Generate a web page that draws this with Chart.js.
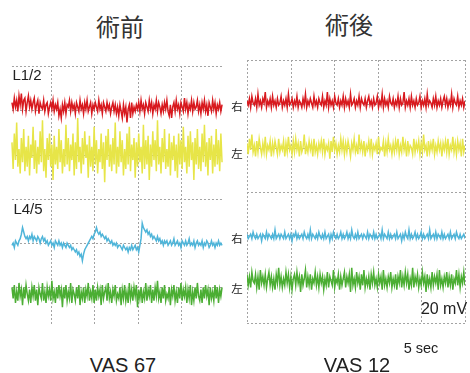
<!DOCTYPE html>
<html>
<head>
<meta charset="utf-8">
<script src="https://cdn.jsdelivr.net/npm/chart.js@4"></script>
<style>
  body { margin: 0; width: 470px; height: 373px; background: #fff; position: relative; overflow: hidden;
         font-family: "Liberation Sans", Arial, sans-serif; color: #222; }
  canvas { position: absolute; }
  .txt { position: absolute; white-space: nowrap; line-height: 1; transform: translate(-50%, -50%); }
  .cjk { font-family: "Noto Sans CJK JP", sans-serif; }
</style>
</head>
<body>
<canvas id="chart_left_canvas" width="226" height="267" style="left:3px; top:62px"></canvas>
<canvas id="chart_right_canvas" width="226" height="271" style="left:243px; top:56px"></canvas>

<div class="txt cjk" style="left:120px; top:26px; font-size:24px; color:#333">術前</div>
<div class="txt cjk" style="left:349px; top:24px; font-size:24px; color:#333">術後</div>
<div class="txt" style="left:27px; top:74px; font-size:15px">L1/2</div>
<div class="txt" style="left:28px; top:208px; font-size:15px">L4/5</div>
<div class="txt cjk" style="left:237px; top:107px; font-size:11.5px">右</div>
<div class="txt cjk" style="left:237px; top:154px; font-size:11.5px">左</div>
<div class="txt cjk" style="left:237px; top:239px; font-size:11.5px">右</div>
<div class="txt cjk" style="left:237px; top:289px; font-size:11.5px">左</div>
<div class="txt" style="left:444px; top:309px; font-size:16px">20 mV</div>
<div class="txt" style="left:421px; top:348px; font-size:14.5px">5 sec</div>
<div class="txt" style="left:123px; top:365px; font-size:20px">VAS 67</div>
<div class="txt" style="left:357px; top:365px; font-size:20px">VAS 12</div>

<script>
// EMG traces, deviation from each channel's baseline in mV (1 grid division = 20 mV)
const pre_l12_right = [2,-1,4,0,3,-2,5,1,6,-1,3,4,-2,2,5,0,3,-1,2,4,
  -2,1,3,-3,2,0,-1,3,-2,1,2,-3,0,2,-1,3,-2,1,-1,2,
  -4,-1,-5,1,-2,2,-3,1,0,3,-2,2,-1,1,-3,2,0,-2,3,-1,
  1,-3,2,-1,3,-2,0,2,-3,1,-1,2,0,-2,3,-1,1,-3,2,0,
  -2,2,-1,1,-3,0,2,-2,1,-3,0,-4,1,-2,-5,1,-3,0,-7,-1,
  1,-5,2,-3,0,-2,1,-1,2,-2,3,-1,1,-3,2,0,-2,3,-1,2,
  -3,1,-1,3,-2,2,0,-3,1,-2,2,-1,3,-2,-4,1,-5,0,2,-2,
  3,-1,1,-3,2,0,-2,4,-1,2,-3,1,-1,3,-2,2,-1,0,3,-2,
  1,-3,2,-1,3,-2,1,-4,2,0,-2,3,-1,2,-3,1,-1,2,-2,1];
const pre_l12_left = [5,-7,9,-3,14,-6,2,-9,7,-4,11,-8,3,-6,8,-10,4,-2,12,-7,
  6,-9,3,-5,10,-4,15,-8,2,-11,7,-3,9,-6,4,-12,8,-5,3,-7,
  11,-4,6,-9,2,-6,13,-5,7,-8,4,-3,9,-10,5,-7,16,-4,3,-9,
  7,-5,10,-2,4,-11,8,-6,3,-8,12,-5,6,-9,2,-4,9,-7,5,-13,
  8,-3,11,-6,4,-8,7,-5,14,-9,3,-6,10,-4,6,-10,2,-7,9,-5,
  12,-8,4,-3,7,-11,5,-6,9,-4,3,-9,13,-7,6,-5,8,-12,4,-6,
  10,-3,6,-8,15,-5,3,-9,7,-4,11,-7,2,-6,9,-10,5,-3,8,-8,
  4,-11,9,-5,6,-7,12,-4,3,-9,8,-6,10,-3,5,-12,7,-5,11,-7,
  3,-8,9,-4,13,-6,5,-10,7,-3,8,-9,4,-6,11,-5,6,-8,9,-4];
const pre_l45_right = [-1,0,-2,1,0,-1,1,2,4,7,5,3,2,3,1,3,2,4,1,3,
  2,1,3,2,0,2,3,1,2,0,1,-1,0,1,-1,0,-2,1,0,-1,
  1,-1,0,-2,0,-1,-2,0,-1,-2,-1,-3,-2,-3,-4,-3,-5,-4,-6,-5,
  -8,-5,-3,-2,-1,0,1,2,3,2,4,5,7,5,4,5,3,4,3,2,
  3,1,2,1,0,1,-1,0,-1,0,-2,-1,-1,-2,-3,-1,-2,-3,-2,-4,
  -2,-3,-1,-3,-2,-1,-3,-2,-4,-1,2,9,7,6,5,6,4,5,3,4,
  2,3,2,1,3,1,2,0,1,-1,1,0,1,-1,0,1,-1,0,2,-1,
  0,1,-1,0,-2,1,0,-1,1,-1,0,2,-1,0,-1,1,-2,0,1,-1,
  0,-1,1,-2,0,-1,1,0,-2,-1,1,-1,0,-2,0,-1,1,-1,0,-1];
const pre_l45_left = [3,-2,4,-4,1,-3,5,-1,2,-5,3,-2,4,0,-3,2,-4,3,-1,4,
  -3,2,-5,3,0,-2,5,-3,1,-4,3,-1,2,-3,6,-2,1,-4,3,-2,
  4,-1,2,-6,3,-2,4,-3,1,-2,5,-4,2,0,-3,3,-2,4,-5,1,
  -2,3,-4,2,-1,5,-3,1,-2,4,-4,2,-3,3,-1,2,-5,4,-2,1,
  3,-3,5,-2,1,-4,2,-1,4,-3,0,-2,3,-5,2,-2,4,-3,1,-4,
  5,-2,2,-3,3,-1,4,-6,2,-2,3,-4,1,-2,5,-3,2,-1,4,-4,
  2,-3,3,-1,6,-2,1,-4,3,-2,4,-3,0,-2,3,-5,2,-1,4,-3,
  1,-4,3,-2,5,-3,2,-1,3,-4,2,-2,4,-5,1,-3,3,-2,5,-1,
  -3,2,-4,3,-2,4,-1,2,-5,3,-2,1,-3,4,-2,3,-4,2,-1,3];

const post_l12_right = [1,-1,2,-2,3,0,-1,2,-2,4,-1,1,-2,2,0,5,-2,1,-1,2,
  -2,3,-1,1,-2,2,-1,0,3,-2,1,-1,2,-2,4,-1,0,2,-2,1,
  -1,3,-2,1,0,-2,2,-1,4,-2,1,-1,2,0,-2,3,-1,1,-2,2,
  0,-1,3,-2,1,-1,5,-2,2,-1,1,-2,3,0,-1,2,-2,1,-1,3,
  -2,2,-1,1,-2,4,-1,0,2,-2,1,-1,3,-2,2,0,-1,2,-2,1,
  3,-1,1,-2,2,-1,0,3,-2,1,-1,4,-2,2,-1,1,-2,3,0,-1,
  2,-2,1,-1,3,-2,2,-1,0,5,-2,1,-1,2,-2,3,-1,1,-2,2,
  -1,0,3,-2,1,-1,2,-2,4,-1,1,0,-2,2,-1,3,-2,1,-1,2,
  -2,1,3,-1,2,-2,1,-1,4,-2,2,0,-1,3,-2,1,-1,2,-2,1];
const post_l12_left = [2,-3,4,-1,6,-2,1,-4,3,-2,4,0,-3,2,-2,5,-3,1,-1,3,
  -4,2,-2,3,0,-3,4,-2,1,-1,3,-4,2,-2,5,-1,1,-3,3,-2,
  4,-1,2,-4,3,-2,0,6,-3,1,-2,3,-1,2,-4,4,-2,1,-3,2,
  -1,3,-2,4,-3,1,-1,2,-5,3,-2,5,-1,2,-3,1,-2,4,-1,3,
  -3,2,-2,3,0,-4,2,-1,4,-2,1,-3,6,-1,2,-2,3,-4,1,-1,
  3,-2,4,-3,1,-1,2,-3,5,-2,0,-1,3,-4,2,-2,4,-1,1,-3,
  2,-2,3,-1,4,-3,1,-2,5,-1,2,-4,3,-2,1,0,-3,4,-2,2,
  -1,3,-3,2,-2,6,-1,1,-4,3,-2,2,-1,4,-3,1,-2,3,-1,2,
  -4,2,-1,3,-2,4,-3,1,-1,5,-2,2,-3,3,-1,2,-4,4,-2,1];
const post_l45_right = [1,-1,0,1,-1,2,0,-1,1,-1,0,1,-2,1,0,-1,2,-1,1,0,
  -1,1,-1,3,-1,0,1,-1,1,0,-1,2,-1,0,1,-1,1,-2,1,0,
  2,-1,1,-1,0,1,-1,2,0,-1,1,-1,3,-1,1,0,-1,1,-1,2,
  0,-1,1,-1,2,-1,0,1,-2,1,-1,2,0,-1,1,-1,0,2,-1,1,
  -1,0,2,-1,1,-1,3,0,-1,1,-1,2,-1,0,1,-1,1,0,-1,2,
  -1,1,0,-1,2,-1,1,-1,0,1,-1,3,-1,1,0,-1,2,-1,1,-1,
  0,1,-1,2,-1,0,1,-2,1,-1,2,0,-1,3,-1,1,-1,0,2,-1,
  1,-1,0,2,-1,1,-1,0,1,-1,3,-1,0,1,-1,2,-1,1,0,-1,
  2,-1,1,-1,0,1,-1,2,-1,0,1,-1,2,0,-1,1,-1,0,1,-1];
const post_l45_left = [3,-2,2,-3,4,0,-1,3,-3,2,-4,5,-1,2,-2,3,-3,1,4,-2,
  2,-3,1,-4,3,-1,6,-2,2,-3,1,-2,4,-1,3,-3,2,-4,1,3,
  -2,4,-1,2,-5,3,-2,1,5,-3,2,-2,3,-4,1,-1,4,-2,2,-3,
  3,-1,2,-4,1,-2,4,-3,2,0,-2,5,-3,1,-1,3,-4,2,-2,1,
  4,-3,2,-1,3,-5,6,-2,1,-3,4,-1,2,-4,3,-2,5,-3,1,-2,
  2,-4,3,-1,4,-2,1,-3,3,-1,2,-4,5,-2,1,-3,2,-1,4,-3,
  1,-2,3,-4,2,-1,5,-3,2,-2,4,-1,3,-4,1,-2,6,-3,2,-1,
  3,-3,1,-2,4,-1,2,-5,3,-2,1,-3,4,-2,2,-1,3,-4,5,-2,
  1,-3,2,-1,4,-3,2,-2,3,-4,1,-1,5,-2,3,-3,2,-1,4,-2];

const trace_colors = ['#d8191e', '#e7e548', '#4fb5d9', '#4bae33'];

/**
 * Turns a list of deviations into chart points placed on a channel baseline.
 * @param {number[]} values deviations in mV.
 * @param {number} base channel baseline, mV.
 * @param {number} t_start time of first sample, sec.
 * @param {number} t_end time of last sample, sec.
 */
function make_points(values, base, t_start, t_end) {
  const dt = (t_end - t_start) / (values.length - 1);
  return values.map((v, i) => ({ x: t_start + i * dt, y: base + v }));
}

/**
 * Plugin that draws the dotted recording grid through the chart's scales.
 */
function grid_plugin(grid) {
  return {
    id: 'emg_grid',
    beforeDatasetsDraw(chart) {
      const ctx = chart.ctx;
      const xs = chart.scales.x;
      const ys = chart.scales.y;
      ctx.save();
      ctx.strokeStyle = '#a3a3a3';
      ctx.lineWidth = 1;
      ctx.setLineDash([2, 2]);
      for (const t of grid.times) {
        const px = Math.round(xs.getPixelForValue(t)) + 0.5;
        ctx.beginPath();
        ctx.moveTo(px, ys.getPixelForValue(ys.max));
        ctx.lineTo(px, ys.getPixelForValue(ys.min));
        ctx.stroke();
      }
      for (const mv of grid.levels) {
        const py = Math.round(ys.getPixelForValue(mv)) + 0.5;
        ctx.beginPath();
        ctx.moveTo(xs.getPixelForValue(grid.h_from), py);
        ctx.lineTo(xs.getPixelForValue(grid.h_to), py);
        ctx.stroke();
      }
      ctx.restore();
    }
  };
}

/**
 * Creates one recording panel (pre- or post-operation).
 */
function make_panel(canvas_id, traces, bases, y_min, t_start, t_end, grid) {
  const datasets = traces.map((values, i) => ({
    data: make_points(values, bases[i], t_start, t_end),
    borderColor: trace_colors[i],
    borderWidth: 1.5,
    pointRadius: 0,
    tension: 0,
    fill: false
  }));
  return new Chart(document.getElementById(canvas_id), {
    type: 'line',
    data: { datasets: datasets },
    options: {
      responsive: false,
      animation: false,
      layout: { padding: 4 },
      plugins: { legend: { display: false }, tooltip: { enabled: false } },
      scales: {
        x: { type: 'linear', min: 0, max: 25, display: false },
        y: { min: y_min, max: 120, display: false }
      }
    },
    plugins: [grid_plugin(grid)]
  });
}

make_panel('chart_left_canvas',
  [pre_l12_right, pre_l12_left, pre_l45_right, pre_l45_left],
  [101.5, 80.5, 40, 17], 3, 0.57, 24.66,
  { times: [5, 10, 15, 20], levels: [20, 40, 60, 80, 100, 120], h_from: 0.57, h_to: 24.66 });

make_panel('chart_right_canvas',
  [post_l12_right, post_l12_left, post_l45_right, post_l45_left],
  [100.4, 80, 39.5, 19.2], 0, 0, 25,
  { times: [0, 5, 10, 15, 20, 25], levels: [0, 20, 40, 60, 80, 100, 120], h_from: 0, h_to: 25 });
</script>
</body>
</html>
